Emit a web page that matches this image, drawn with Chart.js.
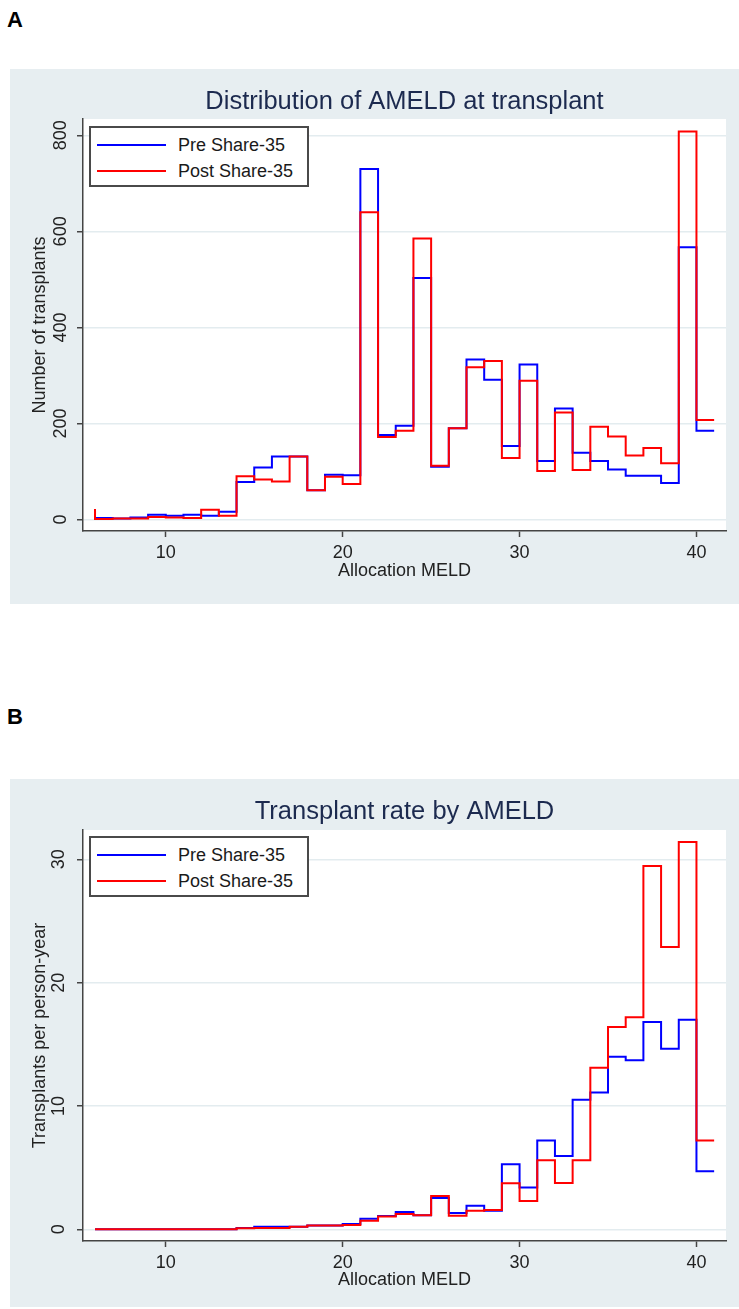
<!DOCTYPE html>
<html>
<head>
<meta charset="utf-8">
<script src="https://cdn.jsdelivr.net/npm/chart.js@4.4.1/dist/chart.umd.min.js"></script>
<style>
  body { margin: 0; width: 739px; height: 1309px; background: #fff; position: relative; overflow: hidden;
         font-family: "Liberation Sans", Arial, sans-serif; }
  .letter { position: absolute; left: 7px; font-weight: bold; font-size: 22px; line-height: 22px; color: #000; }
  .panel { position: absolute; left: 10px; width: 729px; background: #e7eef1; }
  .panel canvas { position: absolute; left: 0; top: 0; }
  .legend { position: absolute; left: 79px; top: 57px; width: 220px; height: 61px; box-sizing: border-box;
            background: #fff; border: 2px solid #4a4a4a; }
  .legend .row { position: absolute; left: 0; height: 20px; width: 100%; }
  .legend .swatch { position: absolute; left: 6px; top: 9px; width: 69px; height: 2px; }
  .legend .label { position: absolute; left: 87px; top: 0; line-height: 20px; font-size: 18px; color: #1a1a1a; white-space: nowrap; }
</style>
</head>
<body>

<div class="letter" style="top:9px">A</div>
<div class="panel" id="panelA" style="top:69px; height:535px">
  <canvas id="chartA"></canvas>
</div>

<div class="letter" style="top:706px">B</div>
<div class="panel" id="panelB" style="top:779px; height:528px">
  <canvas id="chartB"></canvas>
</div>

<script>
// allocation MELD (right edge of each unit bin, first entry is the start of the step line)
const meld = [6, 7, 8, 9, 10, 11, 12, 13, 14, 15, 16, 17, 18, 19, 20, 21, 22, 23,
              24, 25, 26, 27, 28, 29, 30, 31, 32, 33, 34, 35, 36, 37, 38, 39, 40, 41];

// panel A: number of transplants
const preTransplants = [3, 3, 2, 4, 10, 8, 10, 8, 16, 78, 108, 131, 131, 61, 93, 92, 730, 176,
                        195, 503, 110, 190, 333, 291, 153, 323, 122, 231, 139, 122, 104, 91, 91, 76, 567, 185];
const postTransplants = [22, 1, 2, 2, 5, 4, 3, 20, 8, 90, 83, 79, 131, 61, 89, 74, 640, 172,
                         185, 585, 112, 190, 317, 330, 128, 289, 101, 223, 103, 193, 173, 133, 149, 117, 808, 207];

// panel B: transplants per person-year
const preRate = [0, 0, 0, 0, 0, 0, 0, 0, 0, 0.1, 0.2, 0.2, 0.2, 0.3, 0.3, 0.43, 0.85, 1.08,
                 1.4, 1.14, 2.54, 1.32, 1.9, 1.5, 5.27, 3.38, 7.2, 5.95, 10.5, 11.1, 14.0, 13.7, 16.8, 14.65, 17.0, 4.7];
const postRate = [0, 0, 0, 0, 0, 0, 0, 0, 0, 0.08, 0.1, 0.1, 0.2, 0.3, 0.3, 0.35, 0.7, 1.03,
                  1.24, 1.14, 2.7, 1.1, 1.5, 1.57, 3.73, 2.3, 5.6, 3.76, 5.6, 13.1, 16.4, 17.2, 29.46, 22.9, 31.4, 7.2];

const seriesNames = ['Pre Share-35', 'Post Share-35'];
const seriesColors = ['#0000ff', '#ff0000'];

const xTicks = [10, 20, 30, 40];
const yTicksA = [0, 200, 400, 600, 800];
const yTicksB = [0, 10, 20, 30];

const FONT = '"Liberation Sans", Arial, sans-serif';

// paint the white plot region, like Stata's plotregion
const plotFill = {
    id: 'plotFill',
    beforeDraw(chart) {
        const { ctx, chartArea: a } = chart;
        ctx.save();
        ctx.fillStyle = '#ffffff';
        ctx.fillRect(a.left, a.top, a.right - a.left, a.bottom - a.top);
        ctx.restore();
    }
};

function toPoints(values) {
    return values.map((v, i) => ({ x: meld[i], y: v }));
}

function makeLegend(panelId) {
    const box = document.createElement('div');
    box.className = 'legend';
    seriesNames.forEach((name, i) => {
        const row = document.createElement('div');
        row.className = 'row';
        row.style.top = (7 + i * 26) + 'px';
        row.innerHTML = `<span class="swatch" style="background:${seriesColors[i]}"></span>` +
                        `<span class="label">${name}</span>`;
        box.appendChild(row);
    });
    document.getElementById(panelId).appendChild(box);
}

function stepChart(id, pre, post, cfg) {
    return new Chart(document.getElementById(id), {
        type: 'line',
        data: {
            datasets: [
                { label: seriesNames[0], data: toPoints(pre), borderColor: seriesColors[0], order: 1 },
                { label: seriesNames[1], data: toPoints(post), borderColor: seriesColors[1], order: 0 },
            ],
        },
        options: {
            responsive: true,
            maintainAspectRatio: false,
            animation: false,
            events: [],
            elements: {
                line: { stepped: 'after', borderWidth: 2, fill: false, tension: 0 },
                point: { radius: 0 },
            },
            layout: { padding: { left: 0, top: 0, right: 13, bottom: 0 } },
            plugins: {
                legend: { display: false },
                tooltip: { enabled: false },
                title: {
                    display: true,
                    text: cfg.title,
                    fullSize: false,
                    color: '#1c2a4f',
                    font: { family: FONT, size: 25.5, weight: 'normal' },
                    padding: { top: 18, bottom: cfg.titleBottom },
                },
            },
            scales: {
                x: {
                    type: 'linear',
                    min: 5.32,
                    max: 41.67,
                    afterBuildTicks: (s) => { s.ticks = xTicks.map((v) => ({ value: v })); },
                    afterFit: (s) => { s.height = cfg.xAxisHeight; },
                    ticks: { autoSkip: false, padding: 5.7, color: '#222', font: { family: FONT, size: 18 } },
                    grid: { drawOnChartArea: false, tickLength: 6, tickColor: '#444', tickWidth: 1.5 },
                    border: { display: true, color: '#444', width: 1.5 },
                    title: {
                        display: true,
                        text: 'Allocation MELD',
                        color: '#222',
                        font: { family: FONT, size: 18 },
                        padding: { top: 0, bottom: cfg.xTitleBottom },
                    },
                },
                y: {
                    type: 'linear',
                    min: cfg.yMin,
                    max: cfg.yMax,
                    afterBuildTicks: (s) => { s.ticks = cfg.yTicks.map((v) => ({ value: v })); },
                    afterFit: (s) => { s.width = 73; },
                    ticks: {
                        autoSkip: false,
                        minRotation: 90,
                        maxRotation: 90,
                        crossAlign: 'center',
                        padding: cfg.yTickPad,
                        color: '#222',
                        font: { family: FONT, size: 18 },
                    },
                    grid: { color: '#e3ecef', lineWidth: 1.5, tickLength: 6, tickColor: '#444', tickWidth: 1.5 },
                    border: { display: true, color: '#444', width: 1.5 },
                    title: {
                        display: true,
                        text: cfg.yTitle,
                        color: '#222',
                        font: { family: FONT, size: 18 },
                        padding: { top: 19.2, bottom: 0 },
                    },
                },
            },
        },
        plugins: [plotFill],
    });
}

stepChart('chartA', preTransplants, postTransplants, {
    title: 'Distribution of AMELD at transplant',
    titleBottom: 1.4,
    yTitle: 'Number of transplants',
    yTicks: yTicksA,
    yMin: -24,
    yMax: 834,
    yTickPad: 1,
    xAxisHeight: 73,
    xTitleBottom: 21.7,
});

stepChart('chartB', preRate, postRate, {
    title: 'Transplant rate by AMELD',
    titleBottom: 2.4,
    yTitle: 'Transplants per person-year',
    yTicks: yTicksB,
    yMin: -0.95,
    yMax: 32.38,
    yTickPad: 7.5,
    xAxisHeight: 66,
    xTitleBottom: 16.2,
});

makeLegend('panelA');
makeLegend('panelB');
</script>
</body>
</html>
